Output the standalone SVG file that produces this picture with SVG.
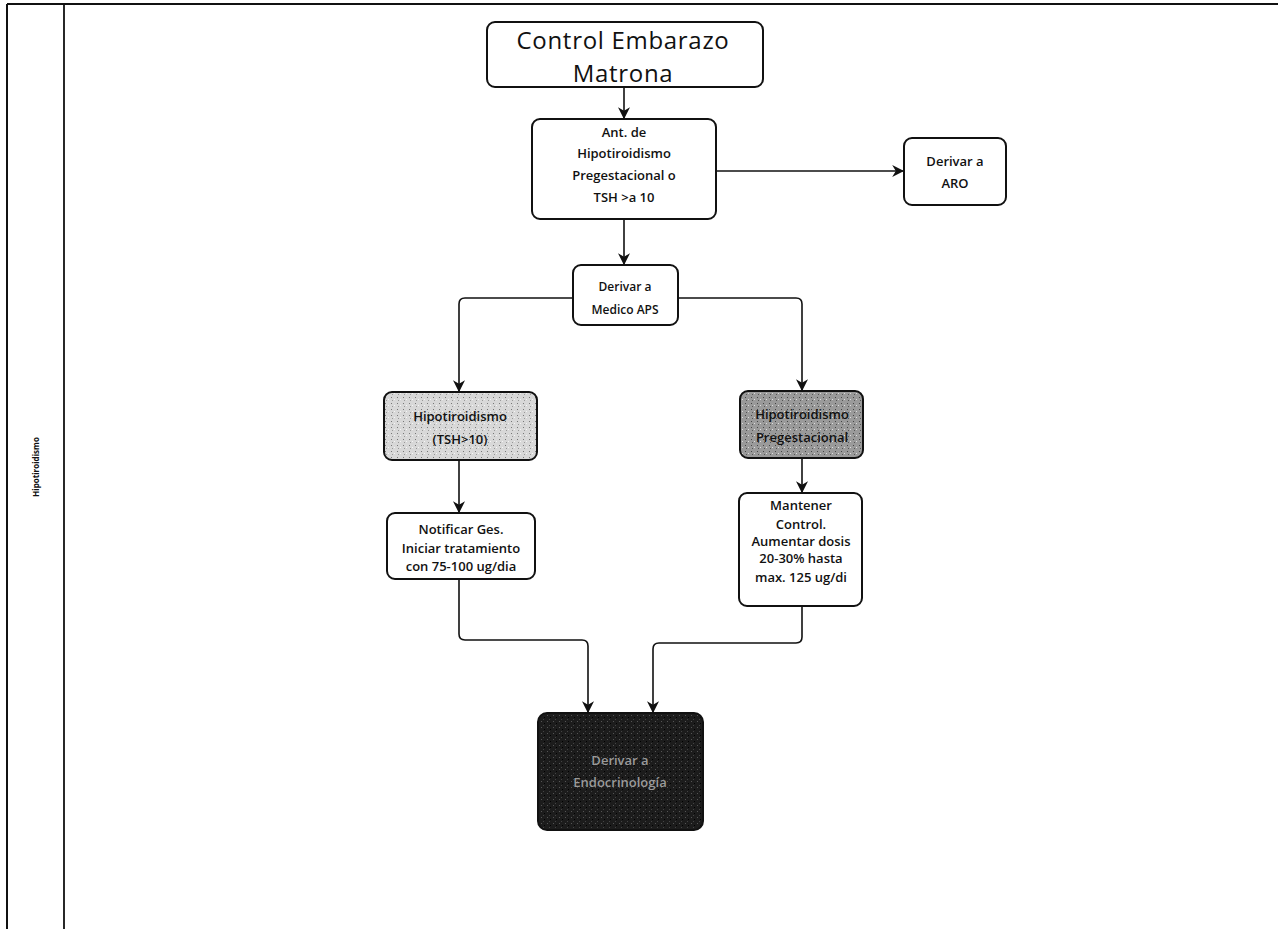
<svg xmlns="http://www.w3.org/2000/svg" width="1278" height="929" viewBox="0 0 1278 929">
<style>
.box{fill:#ffffff;stroke:#111;stroke-width:2}
.t{font-family:"Open Sans","Noto Sans",sans-serif;fill:#111;text-anchor:middle}
.s{font-size:13px;font-weight:600}
.c{fill:none;stroke:#111;stroke-width:1.6}
</style>
<defs>
<marker id="ah" viewBox="0 0 10 10" refX="9" refY="5" markerWidth="12" markerHeight="12" markerUnits="userSpaceOnUse" orient="auto">
<path d="M0,0 L10,5 L0,10 L3,5 z" fill="#111"/>
</marker>
<pattern id="noiseL" width="6" height="6" patternUnits="userSpaceOnUse">
<rect width="6" height="6" fill="#d8d8d8"/>
<rect x="1" y="1" width="1" height="1" fill="#777"/>
<rect x="4" y="3" width="1" height="1" fill="#f5f5f5"/>
<rect x="2" y="4" width="1" height="1" fill="#999"/>
</pattern>
<pattern id="noiseD" width="6" height="6" patternUnits="userSpaceOnUse">
<rect width="6" height="6" fill="#9a9a9a"/>
<rect x="1" y="1" width="1" height="1" fill="#444"/>
<rect x="4" y="3" width="1" height="1" fill="#ddd"/>
<rect x="2" y="4" width="1" height="1" fill="#555"/>
</pattern>
<pattern id="noiseB" width="6" height="6" patternUnits="userSpaceOnUse">
<rect width="6" height="6" fill="#1c1c1c"/>
<rect x="1" y="1" width="1" height="1" fill="#555"/>
<rect x="4" y="3" width="1" height="1" fill="#000"/>
<rect x="3" y="5" width="1" height="1" fill="#444"/>
</pattern>
</defs>
<rect width="1278" height="929" fill="#ffffff"/>
<g id="frame" fill="none" stroke="#111">
<line x1="7" y1="4" x2="1278" y2="4" stroke-width="2"/>
<line x1="7" y1="4" x2="7" y2="929" stroke-width="2"/>
<line x1="64" y1="4" x2="64" y2="929" stroke-width="1.8"/>
</g>
<g id="lane-label">
<text class="t" x="0" y="0" transform="translate(39,467) rotate(-90)" font-size="8" font-weight="700">Hipotiroidismo</text>
</g>
<g id="connectors">
<line class="c" x1="624" y1="87" x2="624" y2="118" marker-end="url(#ah)"/>
<line class="c" x1="716" y1="171" x2="903" y2="171" marker-end="url(#ah)"/>
<line class="c" x1="624" y1="219" x2="624" y2="264" marker-end="url(#ah)"/>
<path class="c" d="M573,298 H465 Q459,298 459,304 V391" marker-end="url(#ah)"/>
<path class="c" d="M678,298 H796 Q802,298 802,304 V390" marker-end="url(#ah)"/>
<line class="c" x1="459" y1="460" x2="459" y2="512" marker-end="url(#ah)"/>
<line class="c" x1="802" y1="458" x2="802" y2="492" marker-end="url(#ah)"/>
<path class="c" d="M459,579 V634 Q459,640 465,640 H582 Q588,640 588,646 V712" marker-end="url(#ah)"/>
<path class="c" d="M802,606 V637 Q802,643 796,643 H659 Q653,643 653,649 V712" marker-end="url(#ah)"/>
</g>
<g id="n-control">
<rect class="box" x="487" y="22" width="276" height="65" rx="8"/>
<text class="t" x="623" y="49" font-size="24" letter-spacing="0.7">Control Embarazo</text>
<text class="t" x="623" y="82" font-size="24" letter-spacing="0.7">Matrona</text>
</g>
<g id="n-ant">
<rect class="box" x="532" y="119" width="184" height="100" rx="8"/>
<text class="t s" x="624" y="137">Ant. de</text>
<text class="t s" x="624" y="158">Hipotiroidismo</text>
<text class="t s" x="624" y="180">Pregestacional o</text>
<text class="t s" x="624" y="202">TSH &gt;a 10</text>
</g>
<g id="n-aro">
<rect class="box" x="904" y="138" width="102" height="67" rx="8"/>
<text class="t s" x="955" y="166">Derivar a</text>
<text class="t s" x="955" y="188">ARO</text>
</g>
<g id="n-aps">
<rect class="box" x="573" y="265" width="105" height="60" rx="8"/>
<text class="t" x="625" y="291" font-size="12" font-weight="600">Derivar a</text>
<text class="t" x="625" y="314" font-size="12" font-weight="600">Medico APS</text>
</g>
<g id="n-hipo">
<rect class="box" x="384" y="392" width="153" height="68" rx="8" style="fill:url(#noiseL)"/>
<text class="t s" x="460" y="421">Hipotiroidismo</text>
<text class="t s" x="460" y="444">(TSH&gt;10)</text>
</g>
<g id="n-preg">
<rect class="box" x="740" y="391" width="123" height="67" rx="8" style="fill:url(#noiseD)"/>
<text class="t s" x="802" y="419" fill="#333">Hipotiroidismo</text>
<text class="t s" x="802" y="442" fill="#333">Pregestacional</text>
</g>
<g id="n-notificar">
<rect class="box" x="387" y="513" width="148" height="66" rx="8"/>
<text class="t s" x="461" y="534">Notificar Ges.</text>
<text class="t s" x="461" y="553">Iniciar tratamiento</text>
<text class="t s" x="461" y="571">con 75-100 ug/dia</text>
</g>
<g id="n-mantener">
<rect class="box" x="739" y="493" width="123" height="113" rx="8"/>
<text class="t s" x="801" y="510">Mantener</text>
<text class="t s" x="801" y="529">Control.</text>
<text class="t s" x="801" y="546">Aumentar dosis</text>
<text class="t s" x="801" y="563">20-30% hasta</text>
<text class="t s" x="801" y="582">max. 125 ug/di</text>
</g>
<g id="n-endo">
<rect class="box" x="538" y="713" width="165" height="117" rx="9" style="fill:url(#noiseB)"/>
<text class="t s" x="620" y="765" style="fill:#9a9a9a">Derivar a</text>
<text class="t s" x="620" y="787" style="fill:#9a9a9a">Endocrinología</text>
</g>
</svg>
